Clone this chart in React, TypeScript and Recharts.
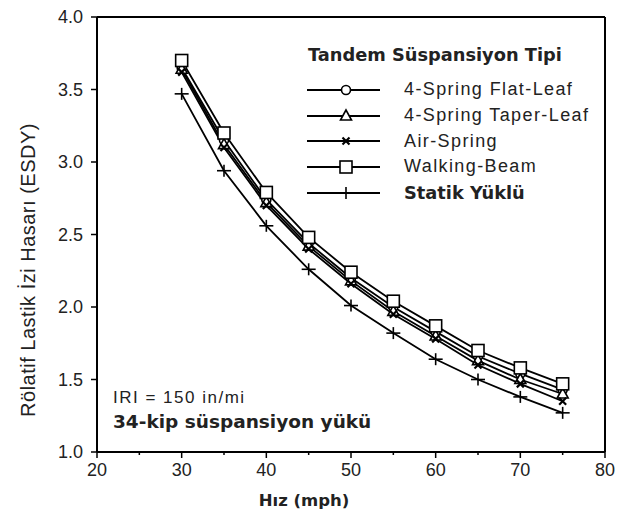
import { LineChart, Line, XAxis, YAxis, ReferenceLine, Label } from "recharts"

const speeds = [30, 35, 40, 45, 50, 55, 60, 65, 70, 75]
const flatLeaf = [3.65, 3.15, 2.74, 2.44, 2.2, 2.0, 1.83, 1.66, 1.54, 1.43]
const taperLeaf = [3.64, 3.12, 2.72, 2.42, 2.18, 1.97, 1.8, 1.63, 1.5, 1.4]
const airSpring = [3.62, 3.1, 2.7, 2.4, 2.16, 1.95, 1.78, 1.6, 1.47, 1.35]
const walkingBeam = [3.7, 3.2, 2.79, 2.48, 2.24, 2.04, 1.87, 1.7, 1.58, 1.47]
const statik = [3.47, 2.94, 2.56, 2.26, 2.01, 1.82, 1.64, 1.5, 1.38, 1.27]

const xTicks = [20, 25, 30, 35, 40, 45, 50, 55, 60, 65, 70, 75, 80]
const yTicks = [1.0, 1.5, 2.0, 2.5, 3.0, 3.5, 4.0]

const data = speeds.map((s, i) => ({
  speed: s,
  flat: flatLeaf[i],
  taper: taperLeaf[i],
  air: airSpring[i],
  walking: walkingBeam[i],
  statik: statik[i],
}))

const SANS = "'Liberation Sans', Arial, sans-serif"
const BOLD = "'DejaVu Sans', 'Open Sans', sans-serif"

type Kind = "circle" | "triangle" | "x" | "square" | "plus"

function Marker({ kind, cx, cy }: { kind: Kind; cx: number; cy: number }) {
  const s = { stroke: "#000", strokeWidth: 1.6, fill: "#fff" }
  if (kind === "circle") return <circle cx={cx} cy={cy} r={4.5} {...s} />
  if (kind === "triangle")
    return <polygon points={`${cx},${cy - 6} ${cx - 5.5},${cy + 4} ${cx + 5.5},${cy + 4}`} {...s} />
  if (kind === "square") return <rect x={cx - 6} y={cy - 6} width={12} height={12} {...s} />
  if (kind === "x")
    return (
      <g stroke="#000" strokeWidth={2.2}>
        <line x1={cx - 3.5} y1={cy - 3.5} x2={cx + 3.5} y2={cy + 3.5} />
        <line x1={cx - 3.5} y1={cy + 3.5} x2={cx + 3.5} y2={cy - 3.5} />
      </g>
    )
  return (
    <g stroke="#000" strokeWidth={1.6}>
      <line x1={cx - 7} y1={cy} x2={cx + 7} y2={cy} />
      <line x1={cx} y1={cy - 6} x2={cx} y2={cy + 6} />
    </g>
  )
}

const series: { key: string; name: string; kind: Kind; bold?: boolean }[] = [
  { key: "flat", name: "4-Spring Flat-Leaf", kind: "circle" },
  { key: "taper", name: "4-Spring Taper-Leaf", kind: "triangle" },
  { key: "air", name: "Air-Spring", kind: "x" },
  { key: "walking", name: "Walking-Beam", kind: "square" },
  { key: "statik", name: "Statik Yüklü", kind: "plus", bold: true },
]

function XTick(props: any) {
  const { x, y, payload } = props
  const major = payload.value % 10 === 0
  return (
    <g>
      <line x1={x} y1={y} x2={x} y2={y + (major ? 6 : 3)} stroke="#000" strokeWidth={1.5} />
      {major && (
        <text x={x} y={y + 24} textAnchor="middle" fontSize={18} fontFamily={SANS} fill="#222">
          {payload.value}
        </text>
      )}
    </g>
  )
}

function LegendBox() {
  return (
    <div style={{ fontFamily: SANS, color: "#222" }}>
      <div
        style={{
          fontFamily: BOLD,
          fontWeight: 700,
          fontSize: 17.8,
          marginLeft: 10,
          height: 37,
          lineHeight: "30px",
          whiteSpace: "nowrap",
        }}
      >
        Tandem Süspansiyon Tipi
      </div>
      {series.map((s) => (
        <div key={s.key} style={{ display: "flex", alignItems: "center", height: 25.7 }}>
          <svg width={106} height={20} style={{ flex: "none" }}>
            <line x1={9} y1={10} x2={82} y2={10} stroke="#000" strokeWidth={1.8} />
            <Marker kind={s.kind} cx={48} cy={10} />
          </svg>
          <span
            style={{
              fontSize: s.bold ? 17.8 : 18,
              fontFamily: s.bold ? BOLD : SANS,
              fontWeight: s.bold ? 700 : 400,
              letterSpacing: s.bold ? 0 : 1.4,
              whiteSpace: "nowrap",
            }}
          >
            {s.name}
          </span>
        </div>
      ))}
    </div>
  )
}

export default function App() {
  return (
    <div style={{ position: "absolute", left: 0, top: 0, width: 622, height: 522, background: "#fff" }}>
      <LineChart width={622} height={522} data={data} margin={{ top: 17, right: 17, left: 47, bottom: 40 }}>
        <XAxis
          dataKey="speed"
          type="number"
          domain={[20, 80]}
          ticks={xTicks}
          interval={0}
          tick={<XTick />}
          tickLine={false}
          tickSize={0}
          tickMargin={0}
          axisLine={{ stroke: "#000", strokeWidth: 2 }}
        >
          <Label
            content={() => (
              <text x={304} y={506} textAnchor="middle" fontSize={16.5} fontWeight={700} fontFamily={BOLD} fill="#222">
                Hız (mph)
              </text>
            )}
          />
        </XAxis>
        <YAxis
          type="number"
          domain={[1, 4]}
          ticks={yTicks}
          interval={0}
          width={50}
          tickFormatter={(v: number) => v.toFixed(1)}
          tick={{ fontSize: 18, fontFamily: SANS, fill: "#222" }}
          tickSize={6}
          tickMargin={8}
          tickLine={{ stroke: "#000", strokeWidth: 1.5 }}
          axisLine={{ stroke: "#000", strokeWidth: 2 }}
        >
          <Label
            content={() => (
              <text
                x={30}
                y={270}
                transform="rotate(-90 30 270)"
                textAnchor="middle"
                dominantBaseline="middle"
                fontSize={20}
                letterSpacing={0.5}
                fontFamily={SANS}
                fill="#222"
              >
                Rölatif Lastik İzi Hasarı (ESDY)
              </text>
            )}
          />
        </YAxis>
        <ReferenceLine y={4} stroke="#000" strokeWidth={2} />
        <ReferenceLine x={80} stroke="#000" strokeWidth={2} />
        {series.map((s) => (
          <Line
            key={s.key}
            dataKey={s.key}
            name={s.name}
            type="linear"
            stroke="#000"
            strokeWidth={1.8}
            isAnimationActive={false}
            dot={(p: any) => <Marker key={`${s.key}-${p.index}`} kind={s.kind} cx={p.cx} cy={p.cy} />}
            activeDot={false}
          />
        ))}
      </LineChart>
      <div style={{ position: "absolute", left: 298, top: 40, width: 320 }}>
        <LegendBox />
      </div>
      <div
        style={{
          position: "absolute",
          left: 113,
          top: 388,
          fontFamily: SANS,
          fontSize: 17,
          letterSpacing: 1.5,
          color: "#222",
          whiteSpace: "nowrap",
        }}
      >
        IRI = 150 in/mi
      </div>
      <div
        style={{
          position: "absolute",
          left: 113,
          top: 411,
          fontFamily: BOLD,
          fontWeight: 700,
          fontSize: 18.5,
          color: "#222",
          whiteSpace: "nowrap",
        }}
      >
        34-kip süspansiyon yükü
      </div>
    </div>
  )
}
